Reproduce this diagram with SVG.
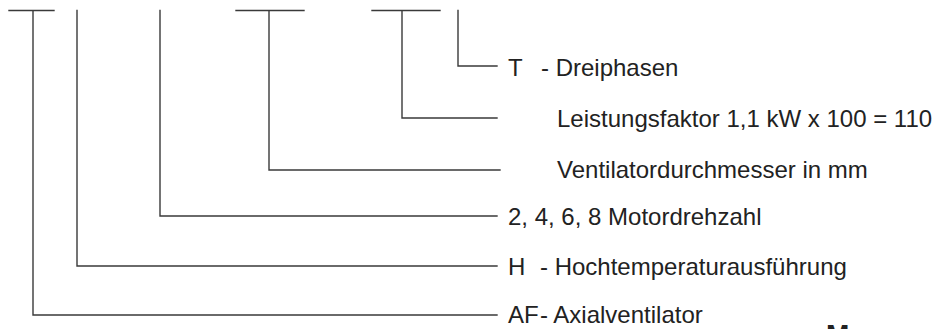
<svg xmlns="http://www.w3.org/2000/svg" width="933" height="329" viewBox="0 0 933 329">
<style>
.c{fill:none;stroke:#3a3a3a;stroke-width:1.4;stroke-linecap:square}
.t{font-family:"Liberation Sans",Arial,sans-serif;font-size:24px;fill:#222}
.m{font-family:"Liberation Sans",Arial,sans-serif;font-size:28px;font-weight:bold;fill:#222}
</style>
<rect width="933" height="329" fill="#fff"/>
<g id="connectors">
<path class="c" d="M9,10.5H54M33,10.5V315H497"/>
<path class="c" d="M77,10.5V266H497"/>
<path class="c" d="M160,10.5V216H497"/>
<path class="c" d="M236,10.5H304M269,10.5V170H500"/>
<path class="c" d="M372,10.5H440M402,10.5V118H497"/>
<path class="c" d="M458,10.5V66H497"/>
</g>
<g id="node-t"><text class="t" x="508" y="76">T</text><text class="t" x="541" y="76">- Dreiphasen</text></g>
<g id="node-leistung"><text class="t" x="557" y="127">Leistungsfaktor 1,1 kW x 100 = 110</text></g>
<g id="node-ventilator"><text class="t" x="557" y="178">Ventilatordurchmesser in mm</text></g>
<g id="node-drehzahl"><text class="t" x="508" y="225">2, 4, 6, 8 Motordrehzahl</text></g>
<g id="node-h"><text class="t" x="508" y="275">H</text><text class="t" x="540" y="275">- Hochtemperaturausführung</text></g>
<g id="node-af"><text class="t" x="508" y="323">AF</text><text class="t" x="540" y="323">- Axialventilator</text></g>
<g id="node-m"><text class="m" x="826" y="344">M</text></g>
</svg>
